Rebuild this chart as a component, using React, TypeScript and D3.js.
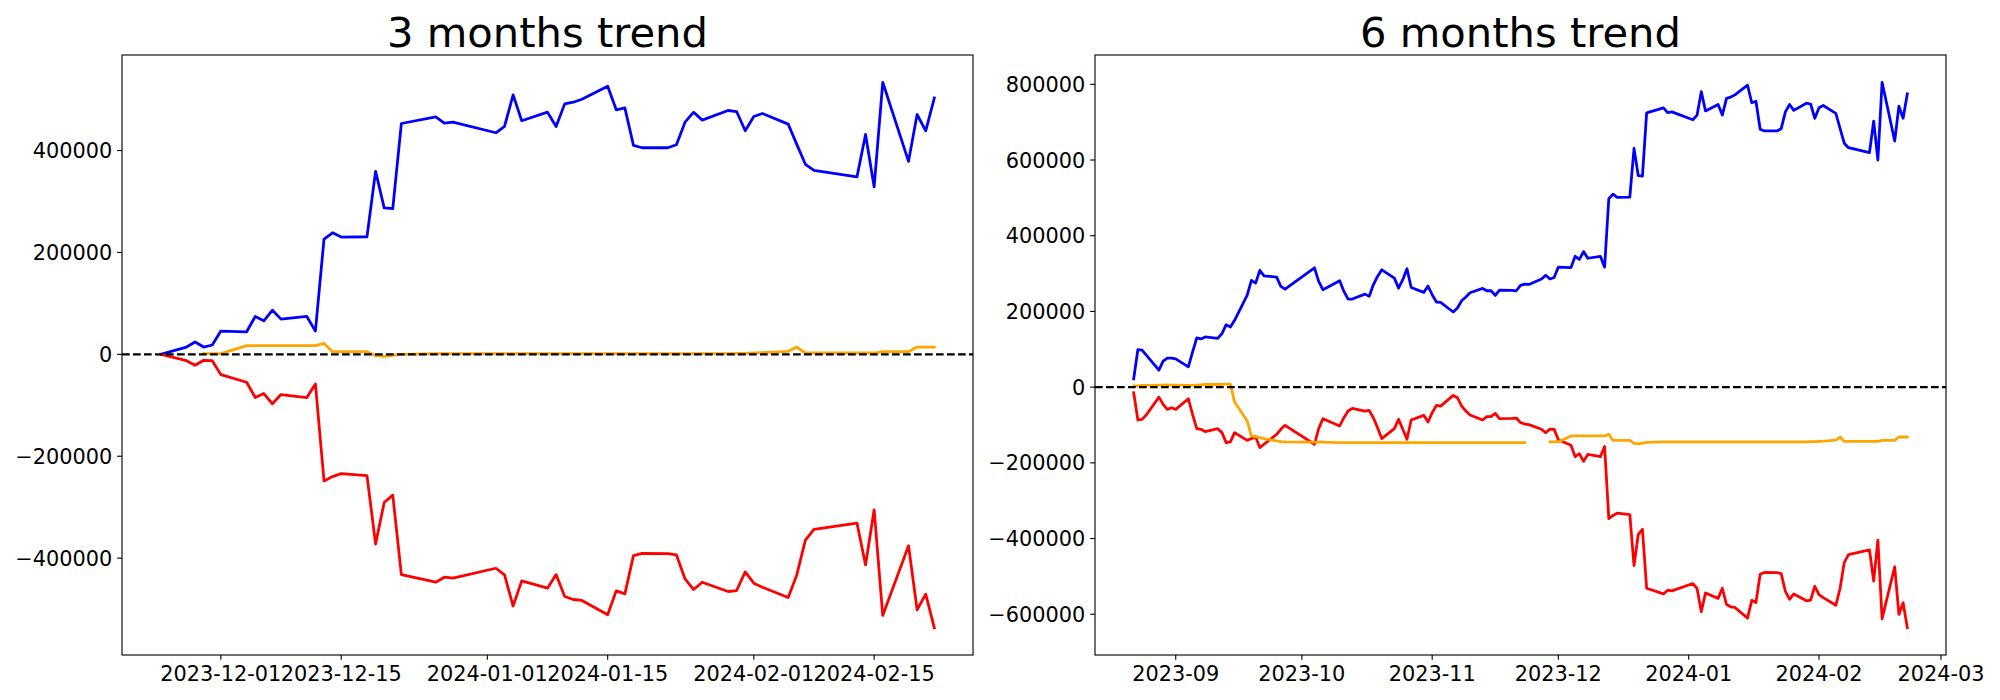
import React from "react";
import * as d3 from "d3";

// ---------------- data ----------------
const datesShort = [
  "2023-11-24", "2023-11-27", "2023-11-28", "2023-11-29", "2023-11-30",
  "2023-12-01", "2023-12-04", "2023-12-05", "2023-12-06", "2023-12-07", "2023-12-08",
  "2023-12-11", "2023-12-12", "2023-12-13", "2023-12-14", "2023-12-15",
  "2023-12-18", "2023-12-19", "2023-12-20", "2023-12-21", "2023-12-22",
  "2023-12-26", "2023-12-27", "2023-12-28",
  "2024-01-02", "2024-01-03", "2024-01-04", "2024-01-05",
  "2024-01-08", "2024-01-09", "2024-01-10", "2024-01-11", "2024-01-12",
  "2024-01-15", "2024-01-16", "2024-01-17", "2024-01-18", "2024-01-19",
  "2024-01-22", "2024-01-23", "2024-01-24", "2024-01-25", "2024-01-26",
  "2024-01-29", "2024-01-30", "2024-01-31",
  "2024-02-01", "2024-02-02", "2024-02-05", "2024-02-06", "2024-02-07", "2024-02-08",
  "2024-02-13", "2024-02-14", "2024-02-15", "2024-02-16",
  "2024-02-19", "2024-02-20", "2024-02-21", "2024-02-22",
];

const blueShort = [
  0, 14300, 24100, 14300, 18300,
  45600, 44300, 74300, 65900, 86700, 69100, 74300, 45600, 226200, 238600, 230200,
  230800, 359300, 287500, 286200, 453100, 466200, 453800, 455700,
  434900, 447300, 509200, 458400, 475300, 447300, 491600, 494900, 500700,
  526200, 479900, 483800, 410100, 405500, 405500, 411400, 455700, 475300, 459700,
  478600, 476600, 438800,
  466800, 472700, 451800, 412100, 373000, 361200, 348200, 431600, 328600, 534000,
  378800, 470700, 438800, 503300,
];

const redShort = [
  0, -12400, -21500, -11700, -12400,
  -39800, -54800, -84800, -76900, -97100, -78900, -84800, -58000, -248400, -239900, -234100,
  -238000, -372300, -290800, -276400, -432300, -447300, -437500, -439400,
  -419900, -433000, -494200, -444700, -459000, -432300, -475300, -481200, -483100,
  -511200, -464200, -470100, -395100, -390500, -391200, -393800, -440800, -461600, -447300,
  -465500, -463600, -427100,
  -449200, -457000, -477200, -433000, -364500, -343600, -331200, -413400, -305100, -512500,
  -375600, -501400, -470700, -536600,
];

const orangeShort: (number | null)[] = [
  null, null, null, 1300, 1300,
  1300, 17000, 17000, 17000, 17000, 17000, 17000, 17000, 21500, 5200, 5200,
  5200, -2600, -3900, -2000, 0, 1300, 1300, 1300,
  1300, 1300, 1300, 1300, 1300, 1300, 1300, 1300, 1300,
  1300, 1300, 1300, 1300, 1300, 1300, 1300, 1300, 1300, 1300,
  1300, 2000, 2000,
  2600, 3300, 5900, 14300, 2600, 2600, 2600, 2600, 2600, 5200,
  5200, 14300, 14300, 14300,
];

const datesLong = [
  "2023-08-22", "2023-08-23", "2023-08-24", "2023-08-25", "2023-08-28", "2023-08-29", "2023-08-30", "2023-08-31",
  "2023-09-01", "2023-09-04", "2023-09-05", "2023-09-06", "2023-09-07", "2023-09-08",
  "2023-09-11", "2023-09-12", "2023-09-13", "2023-09-14", "2023-09-15",
  "2023-09-18", "2023-09-19", "2023-09-20", "2023-09-21", "2023-09-22",
  "2023-09-25", "2023-09-26", "2023-09-27",
  "2023-10-04", "2023-10-05", "2023-10-06", "2023-10-10", "2023-10-11", "2023-10-12", "2023-10-13",
  "2023-10-16", "2023-10-17", "2023-10-18", "2023-10-19", "2023-10-20",
  "2023-10-23", "2023-10-24", "2023-10-25", "2023-10-26", "2023-10-27", "2023-10-30", "2023-10-31",
  "2023-11-01", "2023-11-02", "2023-11-03", "2023-11-06", "2023-11-07", "2023-11-08", "2023-11-09", "2023-11-10",
  "2023-11-13", "2023-11-14", "2023-11-15", "2023-11-16", "2023-11-17",
  "2023-11-20", "2023-11-21", "2023-11-22", "2023-11-23", "2023-11-24",
  "2023-11-27", "2023-11-28", "2023-11-29", "2023-11-30",
  ...datesShort.slice(5),
];

const blueLong = [
  22000, 99300, 97600, 84400, 44800, 68600, 76600, 76600,
  74800, 53700, 92200, 130000, 127400, 132700, 129100, 141400, 165100, 159000, 176600,
  243300, 281900, 274900, 308300, 294200, 290600, 266000, 259000,
  315200, 279200, 257300, 281000, 252900, 232700, 232700, 245800, 239700, 270400, 292400, 310000,
  288000, 261600, 283700, 312600, 263400, 250300, 267000,
  244100, 224900, 224000, 198500, 209000, 228300, 238000, 249400, 260800, 254600, 254600, 242300, 256400,
  255500, 254600, 268700, 272200, 271400, 285700, 295500, 285700, 289700,
  317000, 315700, 345700, 337300, 358100, 340500, 345700, 317000, 497600, 510000, 501600,
  502200, 630700, 558900, 557600, 724500, 737600, 725200, 727100,
  706300, 718700, 780600, 729800, 746700, 718700, 763000, 766300, 772100,
  797600, 751300, 755200, 681500, 676900, 676900, 682800, 727100, 746700, 731100,
  750000, 748000, 710200,
  738200, 744100, 723200, 683500, 644400, 632600, 619600, 703000, 600000, 805400,
  650200, 742100, 710200, 774700,
];

const redLong = [
  -14900, -86800, -85100, -73700, -26400, -45600, -58700, -54500,
  -58700, -30700, -71900, -109700, -111400, -117600, -109700, -120200, -146500, -144700, -120200,
  -140500, -136100, -130800, -159800, -150900, -124600, -111400, -100900,
  -150900, -109700, -83400, -102600, -80700, -63100, -56100, -63100, -61400, -80700, -107000, -136000,
  -109700, -85100, -111400, -137800, -86800, -74500, -92100,
  -67500, -48200, -50000, -21900, -28000, -50000, -63100, -73700, -86800, -78000, -78000, -69300, -83400,
  -82400, -81600, -93900, -97400, -99000, -111400, -120500, -110700, -111400,
  -138800, -153800, -183800, -175900, -196100, -177900, -183800, -157000, -347400, -338900, -333100,
  -337000, -471300, -389800, -375400, -531300, -546300, -536500, -538400,
  -518900, -532000, -593200, -543700, -558000, -531300, -574300, -580200, -582100,
  -610200, -563200, -569100, -494100, -489500, -490200, -492800, -539800, -560600, -546300,
  -564500, -562600, -526100,
  -548200, -556000, -576200, -532000, -463500, -442600, -430200, -512400, -404100, -611500,
  -474600, -600400, -569700, -635600,
];

const orangeLong: (number | null)[] = [
  2700, 3500, 4400, 4400, 5300, 5300, 6100, 5300,
  5300, 4400, 4400, 5300, 6100, 7000, 7000, 7000, 7900, 7900, -39500,
  -89500, -129000, -130700, -133300, -136000, -142200, -144000, -144900,
  -145000, -145500, -145500, -146300, -146300, -146300, -146300, -146300, -146300, -146300, -146300, -146300,
  -146300, -146300, -146300, -146300, -146300, -146300, -146300,
  -146300, -146300, -146300, -146300, -146300, -146300, -146300, -146300, -146300, -146300, -146300, -146300, -146300,
  -146300, -146300, -146300, -146300, null, null, null, -144700, -144700,
  -144700, -129000, -129000, -129000, -129000, -129000, -129000, -129000, -124500, -140800, -140800,
  -140800, -148600, -149900, -148000, -146000, -144700, -144700, -144700,
  -144700, -144700, -144700, -144700, -144700, -144700, -144700, -144700, -144700,
  -144700, -144700, -144700, -144700, -144700, -144700, -144700, -144700, -144700, -144700,
  -144700, -144000, -144000,
  -143400, -142700, -140100, -131700, -143400, -143400, -143400, -143400, -143400, -140800,
  -140800, -131700, -131700, -131700,
];

const seriesColors = ["blue", "red", "orange"];

const xTicksShort = ["2023-12-01", "2023-12-15", "2024-01-01", "2024-01-15", "2024-02-01", "2024-02-15"];
const xTicksLong = ["2023-09-01", "2023-10-01", "2023-11-01", "2023-12-01", "2024-01-01", "2024-02-01", "2024-03-01"];
const yTicksShort = [-400000, -200000, 0, 200000, 400000];
const yTicksLong = [-600000, -400000, -200000, 0, 200000, 400000, 600000, 800000];

const titles = ["3 months trend", "6 months trend"];

// ---------------- rendering ----------------
const parse = d3.utcParse("%Y-%m-%d");
const FONT = "DejaVu Sans, sans-serif";
const TICK_FS = 20.83;

type PanelProps = {
  title: string;
  dates: string[];
  series: (number | null)[][];
  xTicks: string[];
  xFmt: string;
  yTicks: number[];
  x0: number;
  x1: number;
};

const Y0 = 55;
const Y1 = 655;
const TICK = 4.86;

function fmtY(v: number) {
  return v < 0 ? "\u2212" + String(-v) : String(v);
}

function Panel({ title, dates, series, xTicks, xFmt, yTicks, x0, x1 }: PanelProps) {
  const ds = dates.map((s) => parse(s) as Date);
  const [dmin, dmax] = d3.extent(ds) as [Date, Date];
  const span = +dmax - +dmin;
  const x = d3
    .scaleUtc()
    .domain([new Date(+dmin - 0.05 * span), new Date(+dmax + 0.05 * span)])
    .range([x0, x1]);
  const all: number[] = [];
  series.forEach((s) => s.forEach((v) => { if (v != null) all.push(v); }));
  const [vmin, vmax] = d3.extent(all) as [number, number];
  const vr = vmax - vmin;
  const y = d3.scaleLinear().domain([vmin - 0.05 * vr, vmax + 0.05 * vr]).range([Y1, Y0]);
  const fmt = d3.utcFormat(xFmt);

  const line = d3
    .line<[Date, number | null]>()
    .defined((d) => d[1] != null)
    .x((d) => x(d[0]))
    .y((d) => y(d[1] as number));

  return (
    <g>
      <defs>
        <clipPath id={"clip" + x0}>
          <rect x={x0} y={Y0} width={x1 - x0} height={Y1 - Y0} />
        </clipPath>
      </defs>
      <g clipPath={`url(#clip${x0})`}>
        {series.map((s, i) => (
          <path
            key={i}
            d={line(ds.map((d, j) => [d, s[j]] as [Date, number | null])) || ""}
            fill="none"
            stroke={seriesColors[i]}
            strokeWidth={2.78}
            strokeLinejoin="round"
            strokeLinecap="square"
          />
        ))}
        <line
          x1={x0}
          x2={x1}
          y1={y(0)}
          y2={y(0)}
          stroke="black"
          strokeWidth={2.08}
          strokeDasharray="7.7 3.3"
        />
      </g>
      <rect x={x0} y={Y0} width={x1 - x0} height={Y1 - Y0} fill="none" stroke="black" strokeWidth={1.11} />
      {yTicks.map((t) => (
        <g key={"y" + t}>
          <line x1={x0 - TICK} x2={x0} y1={y(t)} y2={y(t)} stroke="black" strokeWidth={1.11} />
          <text x={x0 - 9.7} y={y(t) + 7.6} textAnchor="end" fontFamily={FONT} fontSize={TICK_FS} fill="black">
            {fmtY(t)}
          </text>
        </g>
      ))}
      {xTicks.map((t) => {
        const xv = x(parse(t) as Date);
        return (
          <g key={"x" + t}>
            <line x1={xv} x2={xv} y1={Y1} y2={Y1 + TICK} stroke="black" strokeWidth={1.11} />
            <text x={xv} y={Y1 + 26} textAnchor="middle" fontFamily={FONT} fontSize={TICK_FS} fill="black">
              {fmt(parse(t) as Date)}
            </text>
          </g>
        );
      })}
      <text x={(x0 + x1) / 2} y={46.7} textAnchor="middle" fontFamily={FONT} fontSize={41.67} fill="black">
        {title}
      </text>
    </g>
  );
}

export default function App() {
  return (
    <svg
      width={2000}
      height={700}
      style={{ position: "absolute", left: 0, top: 0, background: "white" }}
    >
      <rect x={0} y={0} width={2000} height={700} fill="white" />
      <Panel
        title={titles[0]}
        dates={datesShort}
        series={[blueShort, redShort, orangeShort]}
        xTicks={xTicksShort}
        xFmt="%Y-%m-%d"
        yTicks={yTicksShort}
        x0={122}
        x1={973}
      />
      <Panel
        title={titles[1]}
        dates={datesLong}
        series={[blueLong, redLong, orangeLong]}
        xTicks={xTicksLong}
        xFmt="%Y-%m"
        yTicks={yTicksLong}
        x0={1095}
        x1={1946}
      />
    </svg>
  );
}
